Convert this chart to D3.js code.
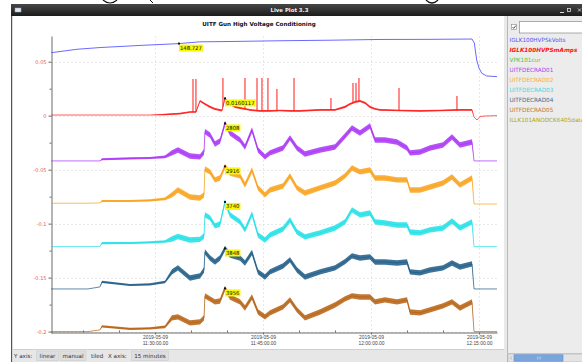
<!DOCTYPE html>
<html>
<head>
<meta charset="utf-8">
<script src="https://cdn.jsdelivr.net/npm/d3@7"></script>
<style>
  html, body { margin: 0; padding: 0; background: #fff; }
  svg { display: block; font-family: "DejaVu Sans", sans-serif; }
</style>
</head>
<body>
<div id="chart"></div>
<script>
// ---- data (times are minutes after 11:00 on 2019-05-09, values on the shared y axis) ----
const windowTitle = "Live Plot 3.3";
const chartTitle = "UITF Gun High Voltage Conditioning";

const legendNames = ["IGLK100HVPSkVolts", "IGLK100HVPSmAmps", "VPK101cur", "UITFDECRAD01", "UITFDECRAD02",
  "UITFDECRAD03", "UITFDECRAD04", "UITFDECRAD05", "ILLK101ANODCK6405data"];

const yTicks = [0.05, 0, -0.05, -0.1, -0.15, -0.2];
const yTickLabels = ["0.05", "0", "-0.05", "-0.1", "-0.15", "-0.2"];
const yMinorTicks = [0.025, -0.025, -0.075, -0.125, -0.175];
const xMajorMinutes = [30, 45, 60, 75];
const xTickDate = "2019-05-09";
const xTickTimes = ["11:30:00.00", "11:45:00.00", "12:00:00.00", "12:15:00.00"];
const xMinorMinutes = [20, 25, 35, 40, 50, 55, 65, 70];

// IGLK100HVPSkVolts
const blueMinutes = [15.56, 16.81, 19.17, 22.36, 28.33, 33.19, 36.25, 40.42, 47.36, 54.31, 61.25, 68.19, 74.03, 74.35, 74.68, 75.0, 75.38, 76.07, 77.5];
const blueValues = [0.0583, 0.0594, 0.0615, 0.0631, 0.0652, 0.0667, 0.0684, 0.0687, 0.0694, 0.0699, 0.0706, 0.0707, 0.0710, 0.0673, 0.0516, 0.0442, 0.0393, 0.0368, 0.0361];

// IGLK100HVPSmAmps
const redMinutes = [15.56, 22.36, 29.31, 31.39, 33.47, 34.86, 35.69, 36.25, 36.94, 37.64, 38.33, 39.31, 39.72, 40.42, 41.11, 41.81, 43.19, 44.58, 45.97, 47.36, 48.75, 50.14, 52.92, 55.0, 56.39, 57.08, 57.78, 58.47, 59.17, 59.86, 60.56, 61.25, 64.03, 66.81, 69.58, 72.36, 74.03, 74.31, 74.72, 75.14, 75.83, 77.5];
const redValues = [0.0006, 0.0006, 0.0006, 0.0011, 0.0020, 0.0034, 0.0034, 0.0136, 0.0108, 0.0081, 0.0062, 0.0048, 0.0160, 0.0108, 0.0081, 0.0071, 0.0053, 0.0044, 0.0044, 0.0048, 0.0044, 0.0044, 0.0053, 0.0053, 0.0081, 0.0108, 0.0127, 0.0136, 0.0118, 0.0081, 0.0062, 0.0053, 0.0048, 0.0044, 0.0048, 0.0053, 0.0053, -0.0012, -0.0040, -0.0007, -0.0003, 0.0000];
const redNoise = [0, 0, 0, 0.0006, 0.0008, 0.0008, 0.0008, 0.0010, 0.0010, 0.0010, 0.0010, 0.0010, 0.0010, 0.0010, 0.0010, 0.0010, 0.0008, 0.0008, 0.0008, 0.0008, 0.0008, 0.0008, 0.0008, 0.0008, 0.0010, 0.0010, 0.0010, 0.0010, 0.0010, 0.0010, 0.0008, 0.0008, 0.0008, 0.0008, 0.0008, 0.0008, 0.0008, 0, 0, 0, 0, 0];
const redSpikeMinutes = [35.28, 35.69, 39.44, 42.5, 44.17, 44.86, 45.69, 46.94, 49.31, 54.44, 57.5, 57.92, 58.33, 63.89, 71.94];
const redSpikePeaks = [0.0340, 0.0340, 0.0349, 0.0349, 0.0349, 0.0349, 0.0349, 0.0247, 0.0349, 0.0164, 0.0303, 0.0303, 0.0349, 0.0256, 0.0182];

// UITFDECRAD01..05 (tiled), shared time base
const radMinutes = [15.56, 20.69, 22.36, 22.64, 26.53, 29.31, 31.39, 32.36, 33.19, 34.86, 36.25, 36.81, 36.94, 37.64, 38.33, 39.03, 39.72, 40.42, 41.81, 42.5, 43.47, 44.31, 45.28, 45.97, 47.78, 48.75, 49.72, 50.83, 52.92, 55.0, 56.39, 57.36, 58.47, 59.86, 60.56, 61.94, 63.61, 65.0, 65.42, 66.81, 68.19, 70.0, 71.25, 72.36, 74.03, 74.31, 77.5];
const radNoise = [0, 0, 0, 0.001, 0.001, 0.001, 0.0012, 0.0025, 0.0025, 0.0025, 0.0025, 0.0025, 0.0025, 0.0025, 0.0025, 0.0025, 0.0025, 0.0025, 0.0025, 0.0025, 0.0025, 0.0025, 0.0025, 0.0025, 0.0025, 0.0025, 0.0025, 0.0025, 0.0025, 0.0025, 0.0025, 0.0025, 0.0025, 0.0025, 0.0025, 0.0025, 0.0025, 0.0025, 0.0025, 0.0025, 0.0025, 0.0025, 0.0025, 0.0025, 0.0025, 0, 0];
const rad01 = [-0.0419, -0.0419, -0.0419, -0.0404, -0.0396, -0.0392, -0.0382, -0.0345, -0.0318, -0.0373, -0.0382, -0.0336, -0.0148, -0.0179, -0.0262, -0.0234, -0.0072, -0.0160, -0.0225, -0.0290, -0.0132, -0.0318, -0.0382, -0.0345, -0.0299, -0.0206, -0.0299, -0.0355, -0.0318, -0.0290, -0.0188, -0.0114, -0.0160, -0.0095, -0.0225, -0.0225, -0.0244, -0.0299, -0.0345, -0.0336, -0.0299, -0.0271, -0.0197, -0.0271, -0.0244, -0.0419, -0.0419];
const rad02 = [-0.0811, -0.0811, -0.0808, -0.0790, -0.0790, -0.0785, -0.0771, -0.0734, -0.0688, -0.0753, -0.0762, -0.0734, -0.0494, -0.0521, -0.0595, -0.0577, -0.0470, -0.0531, -0.0558, -0.0642, -0.0503, -0.0669, -0.0734, -0.0688, -0.0651, -0.0558, -0.0669, -0.0716, -0.0669, -0.0623, -0.0558, -0.0484, -0.0521, -0.0503, -0.0577, -0.0577, -0.0595, -0.0595, -0.0688, -0.0688, -0.0660, -0.0623, -0.0568, -0.0642, -0.0577, -0.0818, -0.0818];
const rad03 = [-0.1213, -0.1213, -0.1211, -0.1181, -0.1179, -0.1174, -0.1165, -0.1142, -0.1119, -0.1151, -0.1146, -0.1114, -0.0919, -0.0947, -0.1021, -0.1003, -0.0799, -0.0919, -0.0984, -0.1058, -0.0910, -0.1105, -0.1151, -0.1105, -0.1049, -0.0966, -0.1077, -0.1123, -0.1086, -0.1040, -0.0984, -0.0873, -0.0919, -0.0901, -0.0984, -0.0994, -0.1012, -0.1012, -0.1077, -0.1086, -0.1058, -0.1040, -0.0975, -0.1040, -0.0984, -0.1213, -0.1213];
const rad04 = [-0.1605, -0.1605, -0.1586, -0.1540, -0.1568, -0.1563, -0.1540, -0.1447, -0.1410, -0.1503, -0.1484, -0.1429, -0.1262, -0.1318, -0.1355, -0.1318, -0.1230, -0.1290, -0.1318, -0.1364, -0.1267, -0.1447, -0.1494, -0.1447, -0.1392, -0.1336, -0.1429, -0.1494, -0.1447, -0.1410, -0.1352, -0.1299, -0.1318, -0.1308, -0.1355, -0.1355, -0.1364, -0.1355, -0.1447, -0.1456, -0.1429, -0.1410, -0.1364, -0.1401, -0.1373, -0.1605, -0.1605];
const rad05 = [-0.2000, -0.2000, -0.1984, -0.1952, -0.1975, -0.1970, -0.1956, -0.1873, -0.1864, -0.1919, -0.1910, -0.1873, -0.1669, -0.1697, -0.1725, -0.1716, -0.1600, -0.1679, -0.1725, -0.1781, -0.1679, -0.1818, -0.1864, -0.1827, -0.1771, -0.1706, -0.1799, -0.1873, -0.1818, -0.1753, -0.1697, -0.1669, -0.1679, -0.1679, -0.1725, -0.1706, -0.1725, -0.1706, -0.1818, -0.1827, -0.1799, -0.1762, -0.1725, -0.1781, -0.1725, -0.2000, -0.2000];

// cursor read-outs
const markerSeries = ["blue", "red", "rad01", "rad02", "rad03", "rad04", "rad05"];
const markerMinutes = [33.33, 39.72, 39.72, 39.72, 39.72, 39.72, 39.72];
const markerLabels = ["148.727", "0.0160117", "2808", "2916", "3740", "3848", "3956"];

// ---- styles ----
const legendColors = ["#5252f5", "#ff1010", "#5cbf2a", "#a945ee", "#f7ad45", "#3fd8dc", "#3c6b8c", "#bb7a3c", "#a8a820"];
const colors = {
  blue: "#6a6aff", red: "#ff1a1a", rad01: "#a832f5", rad02: "#f9a118",
  rad03: "#1fe0e6", rad04: "#1c5a85", rad05: "#b5600f"
};

const T0 = new Date(2019, 4, 9, 11, 0, 0);
const toTime = m => new Date(T0.getTime() + m * 60000);

const svg = d3.select("#chart").append("svg")
  .attr("width", 582)
  .attr("height", 362);

// ---- window chrome ----
svg.append("path").attr("d", "M103,0 Q110,6 117,0").attr("fill", "none").attr("stroke", "#111").attr("stroke-width", 1.2);
svg.append("path").attr("d", "M150,0 L153,3").attr("fill", "none").attr("stroke", "#111").attr("stroke-width", 1);
svg.append("path").attr("d", "M426,0 Q432,6 438,0").attr("fill", "none").attr("stroke", "#111").attr("stroke-width", 1.2);

svg.append("rect").attr("x", 11).attr("y", 4).attr("width", 571).attr("height", 358).attr("fill", "#d8d8d8");
svg.append("line").attr("x1", 11.5).attr("x2", 11.5).attr("y1", 4).attr("y2", 362).attr("stroke", "#555");

const grad = svg.append("defs").append("linearGradient").attr("id", "tb").attr("x1", 0).attr("x2", 0).attr("y1", 0).attr("y2", 1);
grad.append("stop").attr("offset", "0%").attr("stop-color", "#474747");
grad.append("stop").attr("offset", "100%").attr("stop-color", "#1b1b1b");
svg.append("rect").attr("x", 11).attr("y", 4).attr("width", 571).attr("height", 12).attr("fill", "url(#tb)");
svg.append("text").attr("x", 289.5).attr("y", 12.3).attr("text-anchor", "middle")
  .attr("font-size", 5.4).attr("font-weight", "bold").attr("fill", "#f2f2f2").text(windowTitle);
svg.append("rect").attr("x", 15).attr("y", 8).attr("width", 6).attr("height", 4).attr("fill", "#dfe6f2").attr("stroke", "#9ab").attr("stroke-width", 0.5);
svg.append("line").attr("x1", 560).attr("x2", 564).attr("y1", 12.5).attr("y2", 12.5).attr("stroke", "#ddd");
svg.append("rect").attr("x", 567.5).attr("y", 8.5).attr("width", 3).attr("height", 3).attr("fill", "none").attr("stroke", "#ddd").attr("stroke-width", 0.8);
svg.append("path").attr("d", "M578,8.5 L581,11.5 M581,8.5 L578,11.5").attr("stroke", "#ddd").attr("stroke-width", 0.8);

// plot panel, bottom bar, side panel
svg.append("rect").attr("x", 13).attr("y", 16).attr("width", 491).attr("height", 333.5).attr("fill", "#fff");
svg.append("rect").attr("x", 13).attr("y", 349.5).attr("width", 494).attr("height", 12.5).attr("fill", "#e7e7e7");
svg.append("line").attr("x1", 13).attr("x2", 504).attr("y1", 349.5).attr("y2", 349.5).attr("stroke", "#d0d0d0");
svg.append("rect").attr("x", 504).attr("y", 16).attr("width", 3).attr("height", 334).attr("fill", "#e9e9e9");
svg.append("rect").attr("x", 507).attr("y", 16).attr("width", 75).attr("height", 346).attr("fill", "#ececec");
svg.append("line").attr("x1", 507.5).attr("x2", 507.5).attr("y1", 16).attr("y2", 362).attr("stroke", "#b8b8b8");

// side panel filter + legend
svg.append("rect").attr("x", 511.5).attr("y", 24.5).attr("width", 5).attr("height", 5).attr("fill", "#fff").attr("stroke", "#888").attr("stroke-width", 0.6);
svg.append("path").attr("d", "M512.5,27 L513.8,28.4 L515.8,25.6").attr("fill", "none").attr("stroke", "#333").attr("stroke-width", 0.8);
svg.append("rect").attr("x", 519.5).attr("y", 21.5).attr("width", 70).attr("height", 11.5).attr("fill", "#fff").attr("stroke", "#9a9a9a").attr("stroke-width", 0.8);

svg.append("g").selectAll("text")
  .data(legendNames)
  .enter()
  .append("text")
  .attr("x", 509.5)
  .attr("y", (d, i) => 42 + i * 10)
  .attr("font-size", 5.7)
  .attr("font-weight", (d, i) => i === 1 ? "bold" : "normal")
  .attr("font-style", (d, i) => i === 1 ? "italic" : "normal")
  .attr("fill", (d, i) => legendColors[i])
  .text(d => d);

// scrollbar
svg.append("line").attr("x1", 507).attr("x2", 582).attr("y1", 353.5).attr("y2", 353.5).attr("stroke", "#c4c4c4");
svg.append("rect").attr("x", 508.5).attr("y", 354.5).attr("width", 75).attr("height", 7).attr("fill", "#e4e4e4").attr("stroke", "#c6c6c6").attr("stroke-width", 0.6);
svg.append("path").attr("d", "M512,356.3 L510.4,358 L512,359.7").attr("fill", "none").attr("stroke", "#999").attr("stroke-width", 0.6);
svg.append("rect").attr("x", 514).attr("y", 354.8).attr("width", 49).attr("height", 6.4).attr("fill", "#79a6df").attr("stroke", "#5f8ccb").attr("stroke-width", 0.6);
svg.append("path").attr("d", "M537.5,356.5 V359.5 M539,356.5 V359.5 M540.5,356.5 V359.5").attr("stroke", "#c8dcf4").attr("stroke-width", 0.5);

// bottom controls
const bottomTexts = [["Y axis:", 14], ["tiled", 91], ["X axis:", 108]];
const bottomButtons = [["linear", 36.5, 22], ["manual", 60, 26], ["15 minutes", 131.5, 37]];
svg.append("g").selectAll("rect")
  .data(bottomButtons).enter().append("rect")
  .attr("x", d => d[1]).attr("y", 351).attr("width", d => d[2]).attr("height", 9.5)
  .attr("fill", "#dedede").attr("stroke", "#cdcdcd").attr("stroke-width", 0.6);
svg.append("g").selectAll("text")
  .data(bottomButtons).enter().append("text")
  .attr("x", d => d[1] + d[2] / 2).attr("y", 357.6).attr("text-anchor", "middle")
  .attr("font-size", 5.6).attr("fill", "#333").text(d => d[0]);
svg.append("g").selectAll("text")
  .data(bottomTexts).enter().append("text")
  .attr("x", d => d[1]).attr("y", 357.6)
  .attr("font-size", 5.6).attr("fill", "#333").text(d => d[0]);

// ---- plot ----
svg.append("text").attr("x", 259).attr("y", 25.5).attr("text-anchor", "middle")
  .attr("font-size", 5.6).attr("font-weight", "bold").attr("fill", "#111").text(chartTitle);

const x = d3.scaleTime()
  .domain([toTime(15.56), toTime(77.5)])
  .range([51, 497]);

const y = d3.scaleLinear()
  .domain([-0.2013, 0.0738])
  .range([333, 36]);

// grid
const grid = svg.append("g").attr("stroke", "#dedede").attr("stroke-width", 0.7).attr("stroke-dasharray", "2,2");
grid.selectAll("line.h").data(yTicks).enter().append("line")
  .attr("x1", 51).attr("x2", 497)
  .attr("y1", d => Math.round(y(d)) + 0.5).attr("y2", d => Math.round(y(d)) + 0.5);
grid.selectAll("line.v").data(xMajorMinutes).enter().append("line")
  .attr("x1", d => Math.round(x(toTime(d))) + 0.5).attr("x2", d => Math.round(x(toTime(d))) + 0.5)
  .attr("y1", 36).attr("y2", 333);

// y axis
const yAxis = svg.append("g")
  .attr("transform", "translate(51.5,0)")
  .call(d3.axisLeft(y).tickValues(yTicks).tickFormat((d, i) => yTickLabels[i]).tickSize(3).tickSizeOuter(0));
yAxis.select(".domain").attr("stroke", "#6a6a6a");
yAxis.selectAll(".tick line").attr("stroke", "#6a6a6a");
yAxis.selectAll(".tick text").attr("font-size", 5).attr("fill", "#f25050").attr("font-family", "DejaVu Sans").attr("x", -5);
svg.append("g")
  .attr("transform", "translate(51.5,0)")
  .call(d3.axisLeft(y).tickValues(yMinorTicks).tickFormat("").tickSize(2).tickSizeOuter(0))
  .call(g => g.select(".domain").remove())
  .selectAll(".tick line").attr("stroke", "#6a6a6a");

// x axis
const xAxis = svg.append("g")
  .attr("transform", "translate(0,332.5)")
  .call(d3.axisBottom(x).tickValues(xMajorMinutes.map(toTime)).tickFormat("").tickSize(2).tickSizeOuter(0));
xAxis.select(".domain").attr("stroke", "#6a6a6a");
xAxis.selectAll(".tick line").attr("stroke", "#6a6a6a");
xAxis.selectAll(".tick").append("text")
  .attr("text-anchor", "middle").attr("font-size", 4.9).attr("fill", "#444")
  .each(function (d, i) {
    const t = d3.select(this);
    t.append("tspan").attr("x", 0).attr("y", 6.8).text(xTickDate);
    t.append("tspan").attr("x", 0).attr("y", 12.5).text(xTickTimes[i]);
  });
svg.append("g")
  .attr("transform", "translate(0,332.5)")
  .call(d3.axisTop(x).tickValues(xMinorMinutes.map(toTime)).tickFormat("").tickSize(2).tickSizeOuter(0))
  .call(g => g.select(".domain").remove())
  .selectAll(".tick line").attr("stroke", "#6a6a6a");

// series
const toPoints = (mins, vals, noise) => mins.map((m, i) => ({ t: toTime(m), v: vals[i], n: noise ? noise[i] : 0 }));
const line = d3.line().x(d => x(d.t)).y(d => y(d.v));
const band = d3.area().x(d => x(d.t)).y0(d => y(d.v - d.n)).y1(d => y(d.v + d.n));

const series = {
  blue: toPoints(blueMinutes, blueValues),
  red: toPoints(redMinutes, redValues, redNoise),
  rad01: toPoints(radMinutes, rad01, radNoise),
  rad02: toPoints(radMinutes, rad02, radNoise),
  rad03: toPoints(radMinutes, rad03, radNoise),
  rad04: toPoints(radMinutes, rad04, radNoise),
  rad05: toPoints(radMinutes, rad05, radNoise)
};

const plot = svg.append("g");
Object.keys(series).forEach(key => {
  const pts = series[key];
  if (key !== "blue") {
    plot.append("path").datum(pts).attr("d", band).attr("fill", colors[key]).attr("opacity", 0.85);
  }
  plot.append("path").datum(pts).attr("d", line)
    .attr("fill", "none").attr("stroke", colors[key])
    .attr("stroke-width", 1).attr("opacity", key === "blue" ? 1 : 0.7);
});

// interpolated value of a series at minute m
const valueAt = (pts, m) => {
  const t = toTime(m);
  const i = d3.bisector(d => d.t).right(pts, t);
  if (i <= 0) return pts[0].v;
  if (i >= pts.length) return pts[pts.length - 1].v;
  const a = pts[i - 1], b = pts[i];
  const f = (t - a.t) / (b.t - a.t);
  return a.v + (b.v - a.v) * f;
};

// red spikes
plot.append("g").selectAll("line")
  .data(redSpikeMinutes)
  .enter()
  .append("line")
  .attr("x1", d => x(toTime(d))).attr("x2", d => x(toTime(d)))
  .attr("y1", d => y(valueAt(series.red, d)))
  .attr("y2", (d, i) => y(redSpikePeaks[i]))
  .attr("stroke", colors.red).attr("stroke-width", 1);

// cursor markers and labels
const marks = svg.append("g");
markerSeries.forEach((key, i) => {
  const mx = x(toTime(markerMinutes[i]));
  const my = y(valueAt(series[key], markerMinutes[i]));
  const g = marks.append("g").attr("transform", `translate(${mx},${my})`);
  const txt = g.append("text").attr("x", 1).attr("y", 6.5)
    .attr("font-size", 5.3).attr("fill", "#111").text(markerLabels[i]);
  const w = txt.node().getComputedTextLength();
  g.insert("rect", "text").attr("x", 0).attr("y", 1).attr("width", w + 2).attr("height", 7).attr("fill", "#f7f700");
  g.append("rect").attr("x", -1).attr("y", -1).attr("width", 2).attr("height", 2).attr("fill", "#111");
});
</script>
</body>
</html>
